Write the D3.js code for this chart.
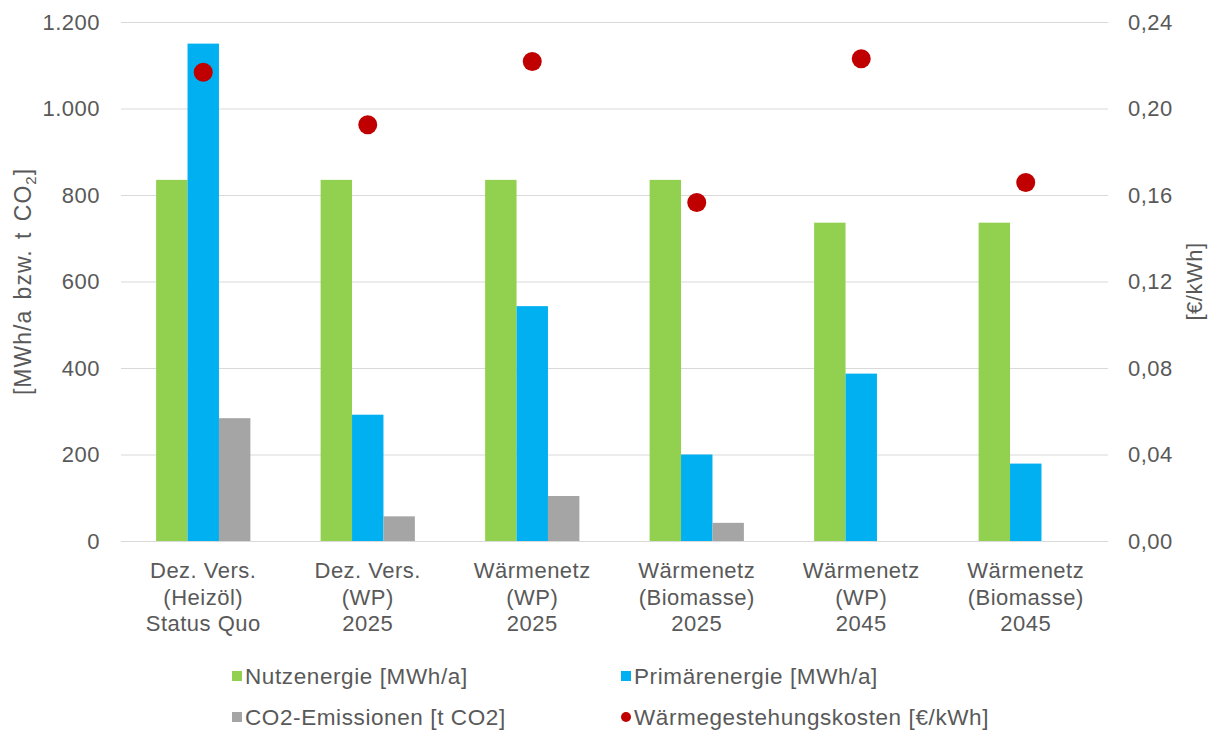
<!DOCTYPE html>
<html>
<head>
<meta charset="utf-8">
<script src="https://cdn.jsdelivr.net/npm/d3@7/dist/d3.min.js"></script>
<style>
  html, body { margin: 0; padding: 0; background: #fff; }
  svg { display: block; font-family: "Liberation Sans", Arial, sans-serif; }
</style>
</head>
<body>
<svg id="chart" width="1215" height="734"></svg>
<script>
// Scenario categories (multi-line labels)
const categories = [
  ["Dez. Vers.", "(Heizöl)", "Status Quo"],
  ["Dez. Vers.", "(WP)", "2025"],
  ["Wärmenetz", "(WP)", "2025"],
  ["Wärmenetz", "(Biomasse)", "2025"],
  ["Wärmenetz", "(WP)", "2045"],
  ["Wärmenetz", "(Biomasse)", "2045"]
];
const nutzenergie = [835, 835, 835, 835, 736, 736];        // MWh/a
const primaerenergie = [1150, 292, 543, 200, 387, 179];    // MWh/a
const co2Emissionen = [284, 57, 104, 42, 0, 0];            // t CO2
const waermekosten = [0.2168, 0.1925, 0.2217, 0.1565, 0.2230, 0.1658]; // €/kWh

const leftTicks = [0, 200, 400, 600, 800, 1000, 1200];
const rightTicks = [0, 0.04, 0.08, 0.12, 0.16, 0.20, 0.24];

const seriesNames = ["Nutzenergie [MWh/a]", "Primärenergie [MWh/a]", "CO2-Emissionen [t CO2]"];
const costName = "Wärmegestehungskosten [€/kWh]";
const colors = ["#92d050", "#00b0f0", "#a5a5a5"];
const dotColor = "#c00000";
const textColor = "#595959";

const svg = d3.select("#chart");
const plot = { left: 121, right: 1108, top: 22, bottom: 541 };

const catIdx = categories.map((_, i) => i);
const x0 = d3.scaleBand().domain(catIdx).range([plot.left, plot.right])
  .paddingInner(0.427).paddingOuter(0.2135);
const x1 = d3.scaleBand().domain([0, 1, 2]).range([0, x0.bandwidth()]).padding(0);
const yL = d3.scaleLinear().domain([0, 1200]).range([plot.bottom, plot.top]);
const yR = d3.scaleLinear().domain([0, 0.24]).range([plot.bottom, plot.top]);

// gridlines
svg.append("g")
  .attr("transform", `translate(${plot.left},0)`)
  .call(d3.axisLeft(yL).tickValues(leftTicks).tickSize(-(plot.right - plot.left)).tickFormat(""))
  .call(g => g.select(".domain").remove())
  .call(g => g.selectAll("line").attr("stroke", "#d9d9d9").attr("stroke-width", 1.2));

const styleTicks = g => g.selectAll("text")
  .attr("fill", textColor)
  .style("font-size", "22px")
  .style("letter-spacing", "0.5px")
  .style("font-family", "'Liberation Sans', Arial, sans-serif");

// left tick labels
const deFmt = d3.formatLocale({ decimal: ",", thousands: ".", grouping: [3], currency: ["", "€"] });
svg.append("g")
  .attr("transform", `translate(${plot.left},0)`)
  .call(d3.axisLeft(yL).tickValues(leftTicks).tickSize(0).tickPadding(21).tickFormat(deFmt.format(",d")))
  .call(g => g.select(".domain").remove())
  .call(styleTicks);

// right tick labels
svg.append("g")
  .attr("transform", `translate(${plot.right},0)`)
  .call(d3.axisRight(yR).tickValues(rightTicks).tickSize(0).tickPadding(20).tickFormat(deFmt.format(".2f")))
  .call(g => g.select(".domain").remove())
  .call(styleTicks);

// bars
const seriesData = [nutzenergie, primaerenergie, co2Emissionen];
const groups = svg.append("g").selectAll("g")
  .data(catIdx).join("g")
  .attr("transform", i => `translate(${x0(i)},0)`);
groups.selectAll("rect")
  .data(i => seriesData.map((s, k) => ({ k, v: s[i] })))
  .join("rect")
  .attr("x", d => x1(d.k))
  .attr("width", x1.bandwidth())
  .attr("y", d => yL(d.v))
  .attr("height", d => yL(0) - yL(d.v))
  .attr("fill", d => colors[d.k]);

// cost markers
svg.append("g").selectAll("circle")
  .data(catIdx).join("circle")
  .attr("cx", i => x0(i) + x0.bandwidth() / 2)
  .attr("cy", i => yR(waermekosten[i]))
  .attr("r", 9.5)
  .attr("fill", dotColor);

// category labels
const catG = svg.append("g");
catIdx.forEach(i => {
  const cx = x0(i) + x0.bandwidth() / 2;
  const t = catG.append("text")
    .attr("x", cx)
    .attr("y", 578)
    .attr("text-anchor", "middle")
    .attr("fill", textColor)
    .style("font-size", "22px")
    .style("letter-spacing", "0.5px");
  categories[i].forEach((line, j) => {
    t.append("tspan").attr("x", cx).attr("dy", j === 0 ? 0 : 26.5).text(line);
  });
});

// axis titles
const lt = svg.append("text")
  .attr("transform", `translate(31,${(plot.top + plot.bottom) / 2}) rotate(-90)`)
  .attr("text-anchor", "middle")
  .attr("fill", textColor)
  .style("font-size", "23px")
  .style("letter-spacing", "1px")
  .style("word-spacing", "3px");
lt.append("tspan").text("[MWh/a bzw. t CO");
lt.append("tspan").text("2").style("font-size", "15px").attr("dy", 5);
lt.append("tspan").text("]").attr("dy", -5);

svg.append("text")
  .attr("transform", `translate(1202,${(plot.top + plot.bottom) / 2}) rotate(-90)`)
  .attr("text-anchor", "middle")
  .attr("fill", textColor)
  .style("font-size", "22px")
  .style("letter-spacing", "0.5px")
  .text("[€/kWh]");

// legend
const legendItems = [
  { name: seriesNames[0], color: colors[0], shape: "rect", x: 232, y: 676 },
  { name: seriesNames[1], color: colors[1], shape: "rect", x: 621, y: 676 },
  { name: seriesNames[2], color: colors[2], shape: "rect", x: 232, y: 717 },
  { name: costName, color: dotColor, shape: "circle", x: 621, y: 717 }
];
const lg = svg.append("g").selectAll("g").data(legendItems).join("g")
  .attr("transform", d => `translate(${d.x},${d.y})`);
lg.filter(d => d.shape === "rect").append("rect")
  .attr("x", 0).attr("y", -5).attr("width", 10).attr("height", 10)
  .attr("fill", d => d.color);
lg.filter(d => d.shape === "circle").append("circle")
  .attr("cx", 5).attr("cy", 0).attr("r", 5)
  .attr("fill", d => d.color);
lg.append("text")
  .attr("x", 13).attr("y", 8)
  .attr("fill", textColor)
  .style("font-size", "22.5px")
  .style("letter-spacing", "0.6px")
  .text(d => d.name);
</script>
</body>
</html>
